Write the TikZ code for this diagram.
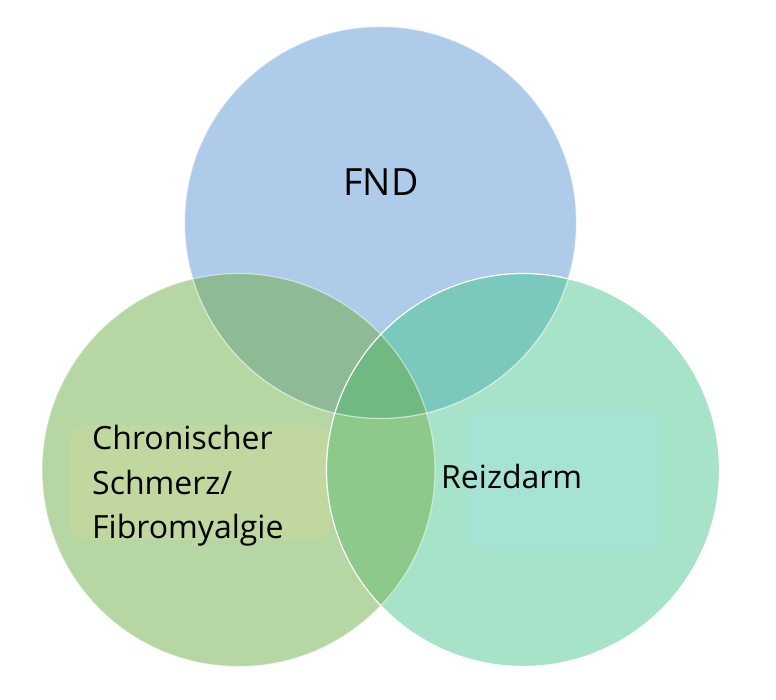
\documentclass[tikz,border=0pt]{standalone}
\usepackage{fontspec}
\setmainfont{Open Sans}
\definecolor{ctop}{HTML}{AECBEA}
\definecolor{cleft}{HTML}{B6D6A3}
\definecolor{cright}{HTML}{A6E3C8}
\definecolor{ctl}{HTML}{8EBB95}
\definecolor{ctr}{HTML}{7AC9BC}
\definecolor{clr}{HTML}{8CC98A}
\definecolor{call}{HTML}{72B882}
\definecolor{pleft}{HTML}{C0D8A0}
\definecolor{pright}{HTML}{A5E3D5}
\tikzset{
  lbl/.style={anchor=base west, inner sep=0pt, font=\fontsize{32}{44}\selectfont, text=black},
  ring/.style={draw=white, line width=1.2pt}
}
\begin{document}
\begin{tikzpicture}[x=1pt,y=-1pt]
\useasboundingbox (0,0) rectangle (776,699);
\fill[white] (0,0) rectangle (776,699);
\def\T{(380.5,222.5) circle (196)}
\def\L{(238.5,470) circle (196.5)}
\def\R{(523,470) circle (196.5)}
% single regions
\fill[ctop] \T;
\fill[cleft] \L;
\fill[cright] \R;
% text patches
\begin{scope}
\clip \L;
\fill[pleft, rounded corners=14pt] (70,425) rectangle (330,540);
\end{scope}
\begin{scope}
\clip \R;
\fill[pright, rounded corners=14pt] (468,410) rectangle (660,550);
\end{scope}
% pair overlaps
\begin{scope}\clip \T; \fill[ctl] \L; \end{scope}
\begin{scope}\clip \T; \fill[ctr] \R; \end{scope}
\begin{scope}\clip \L; \fill[clr] \R; \end{scope}
\begin{scope}\clip \T; \clip \L; \fill[call] \R; \end{scope}
% outlines
\draw[ring, draw opacity=0.6] \T;
\draw[ring, draw opacity=0.5] \L;
\draw[ring] \R;
% labels
\node[anchor=base, inner sep=0pt, font=\fontsize{37.5}{40}\selectfont] (fnd) at (381,195) {FND};
\node[lbl] (c1) at (92,449) {Chronischer};
\node[lbl] (c2) at (92,494) {Schmerz/};
\node[lbl] (c3) at (92,538) {Fibromyalgie};
\node[lbl] (rz) at (441,488) {Reizdarm};
\end{tikzpicture}
\end{document}
